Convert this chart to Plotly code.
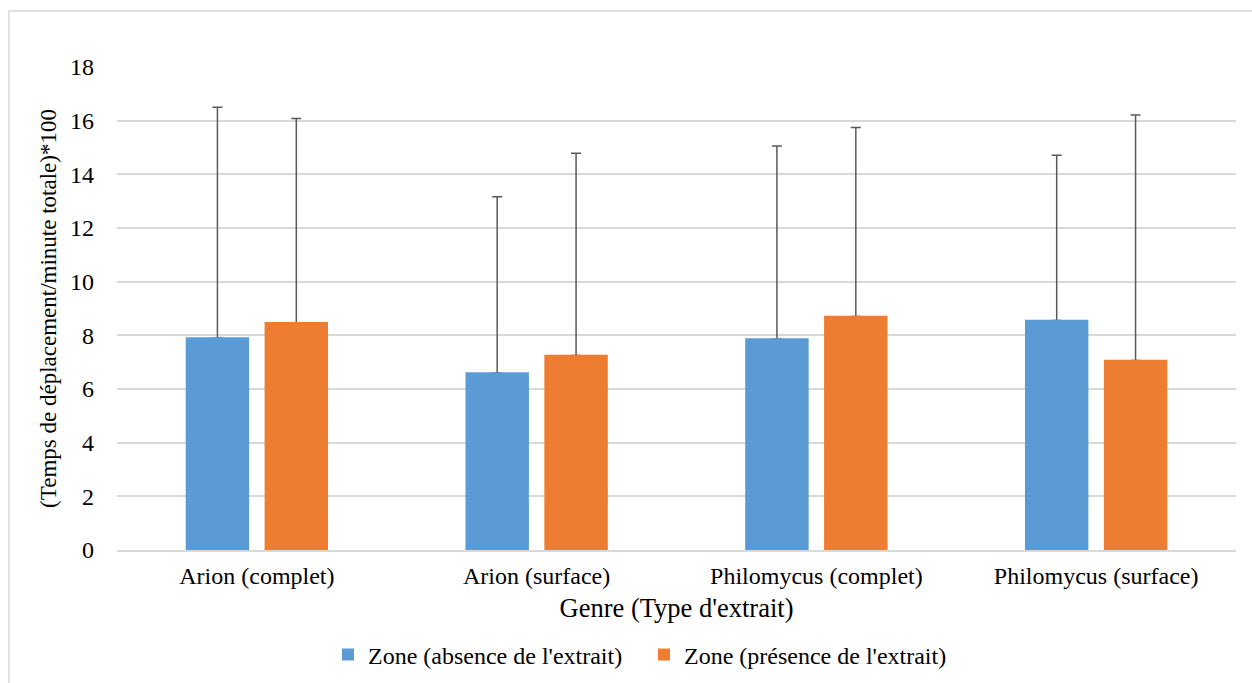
import plotly.graph_objects as go

categories = ["Arion (complet)", "Arion (surface)", "Philomycus (complet)", "Philomycus (surface)"]
absence_vals = [7.90, 6.60, 7.86, 8.55]
presence_vals = [8.47, 7.25, 8.70, 7.06]
absence_err = [8.60, 6.56, 7.20, 6.16]
presence_err = [7.61, 7.54, 7.05, 9.15]
series_names = ["Zone (absence de l'extrait)", "Zone (présence de l'extrait)"]
y_ticks = [0, 2, 4, 6, 8, 10, 12, 14, 16, 18]

FONT = "Liberation Serif"
W, H = 1252, 683
L, R, T, B = 117, 16, 67, 133
colors = ["#5b9bd5", "#ed7d31"]

fig = go.Figure()
series = [(series_names[0], absence_vals, absence_err, colors[0], "a"),
          (series_names[1], presence_vals, presence_err, colors[1], "b")]
for name, vals, errs, color, grp in series:
    fig.add_trace(go.Bar(
        x=categories, y=vals, name=name, offsetgroup=grp,
        marker=dict(color=color, line=dict(width=0)),
        error_y=dict(type="data", array=errs, arrayminus=[0] * len(errs),
                     symmetric=False, color="#595959", thickness=1.5, width=5),
    ))
# cover bars (same geometry) so that the error bars start at the bar top without a lower cap
for name, vals, errs, color, grp in series:
    fig.add_trace(go.Bar(
        x=categories, y=vals, name=name, offsetgroup=grp, showlegend=False,
        marker=dict(color=color, line=dict(width=1.5, color=color)), hoverinfo="skip",
    ))

pw = W - L - R
ph = H - T - B
fig.add_shape(type="rect", xref="paper", yref="paper",
              x0=(9 - L) / pw, x1=(W + 20 - L) / pw,
              y0=-(H + 20 - T - ph) / ph, y1=(H - B - 11) / ph,
              line=dict(color="#d9d9d9", width=1.5), fillcolor="rgba(0,0,0,0)",
              layer="below")

fig.update_layout(
    width=W, height=H,
    margin=dict(l=L, r=R, t=T, b=B, autoexpand=False),
    paper_bgcolor="white", plot_bgcolor="white",
    barmode="group", bargap=0.436, bargroupgap=0.215,
    font=dict(family=FONT, size=24, color="#000000"),
    xaxis=dict(
        title=dict(text="Genre (Type d'extrait)", font=dict(size=26.5, family=FONT), standoff=11),
        showgrid=False, showline=True, linecolor="#d9d9d9", linewidth=1.5,
        ticks="", tickfont=dict(size=24, family=FONT), ticklabelstandoff=3,
        automargin=False,
    ),
    yaxis=dict(
        title=dict(text="(Temps de déplacement/minute totale)*100", font=dict(size=23, family=FONT), standoff=6),
        range=[0, 18], tickvals=y_ticks, showgrid=True, gridcolor="#d9d9d9", gridwidth=1.5,
        zeroline=False, showline=False, ticks="", tickfont=dict(size=24, family=FONT),
        ticklabelstandoff=22, automargin=False,
    ),
    legend=dict(orientation="h", x=(328 - L) / pw, xanchor="left", y=(550 - 655) / ph, yanchor="middle",
                font=dict(size=24, family=FONT), itemwidth=30, traceorder="normal",
                entrywidth=271, entrywidthmode="pixels"),
    showlegend=True,
)

fig.write_html("out.html", config={"displayModeBar": False},
               post_script="document.body.style.margin='0';document.body.style.overflow='hidden';")
